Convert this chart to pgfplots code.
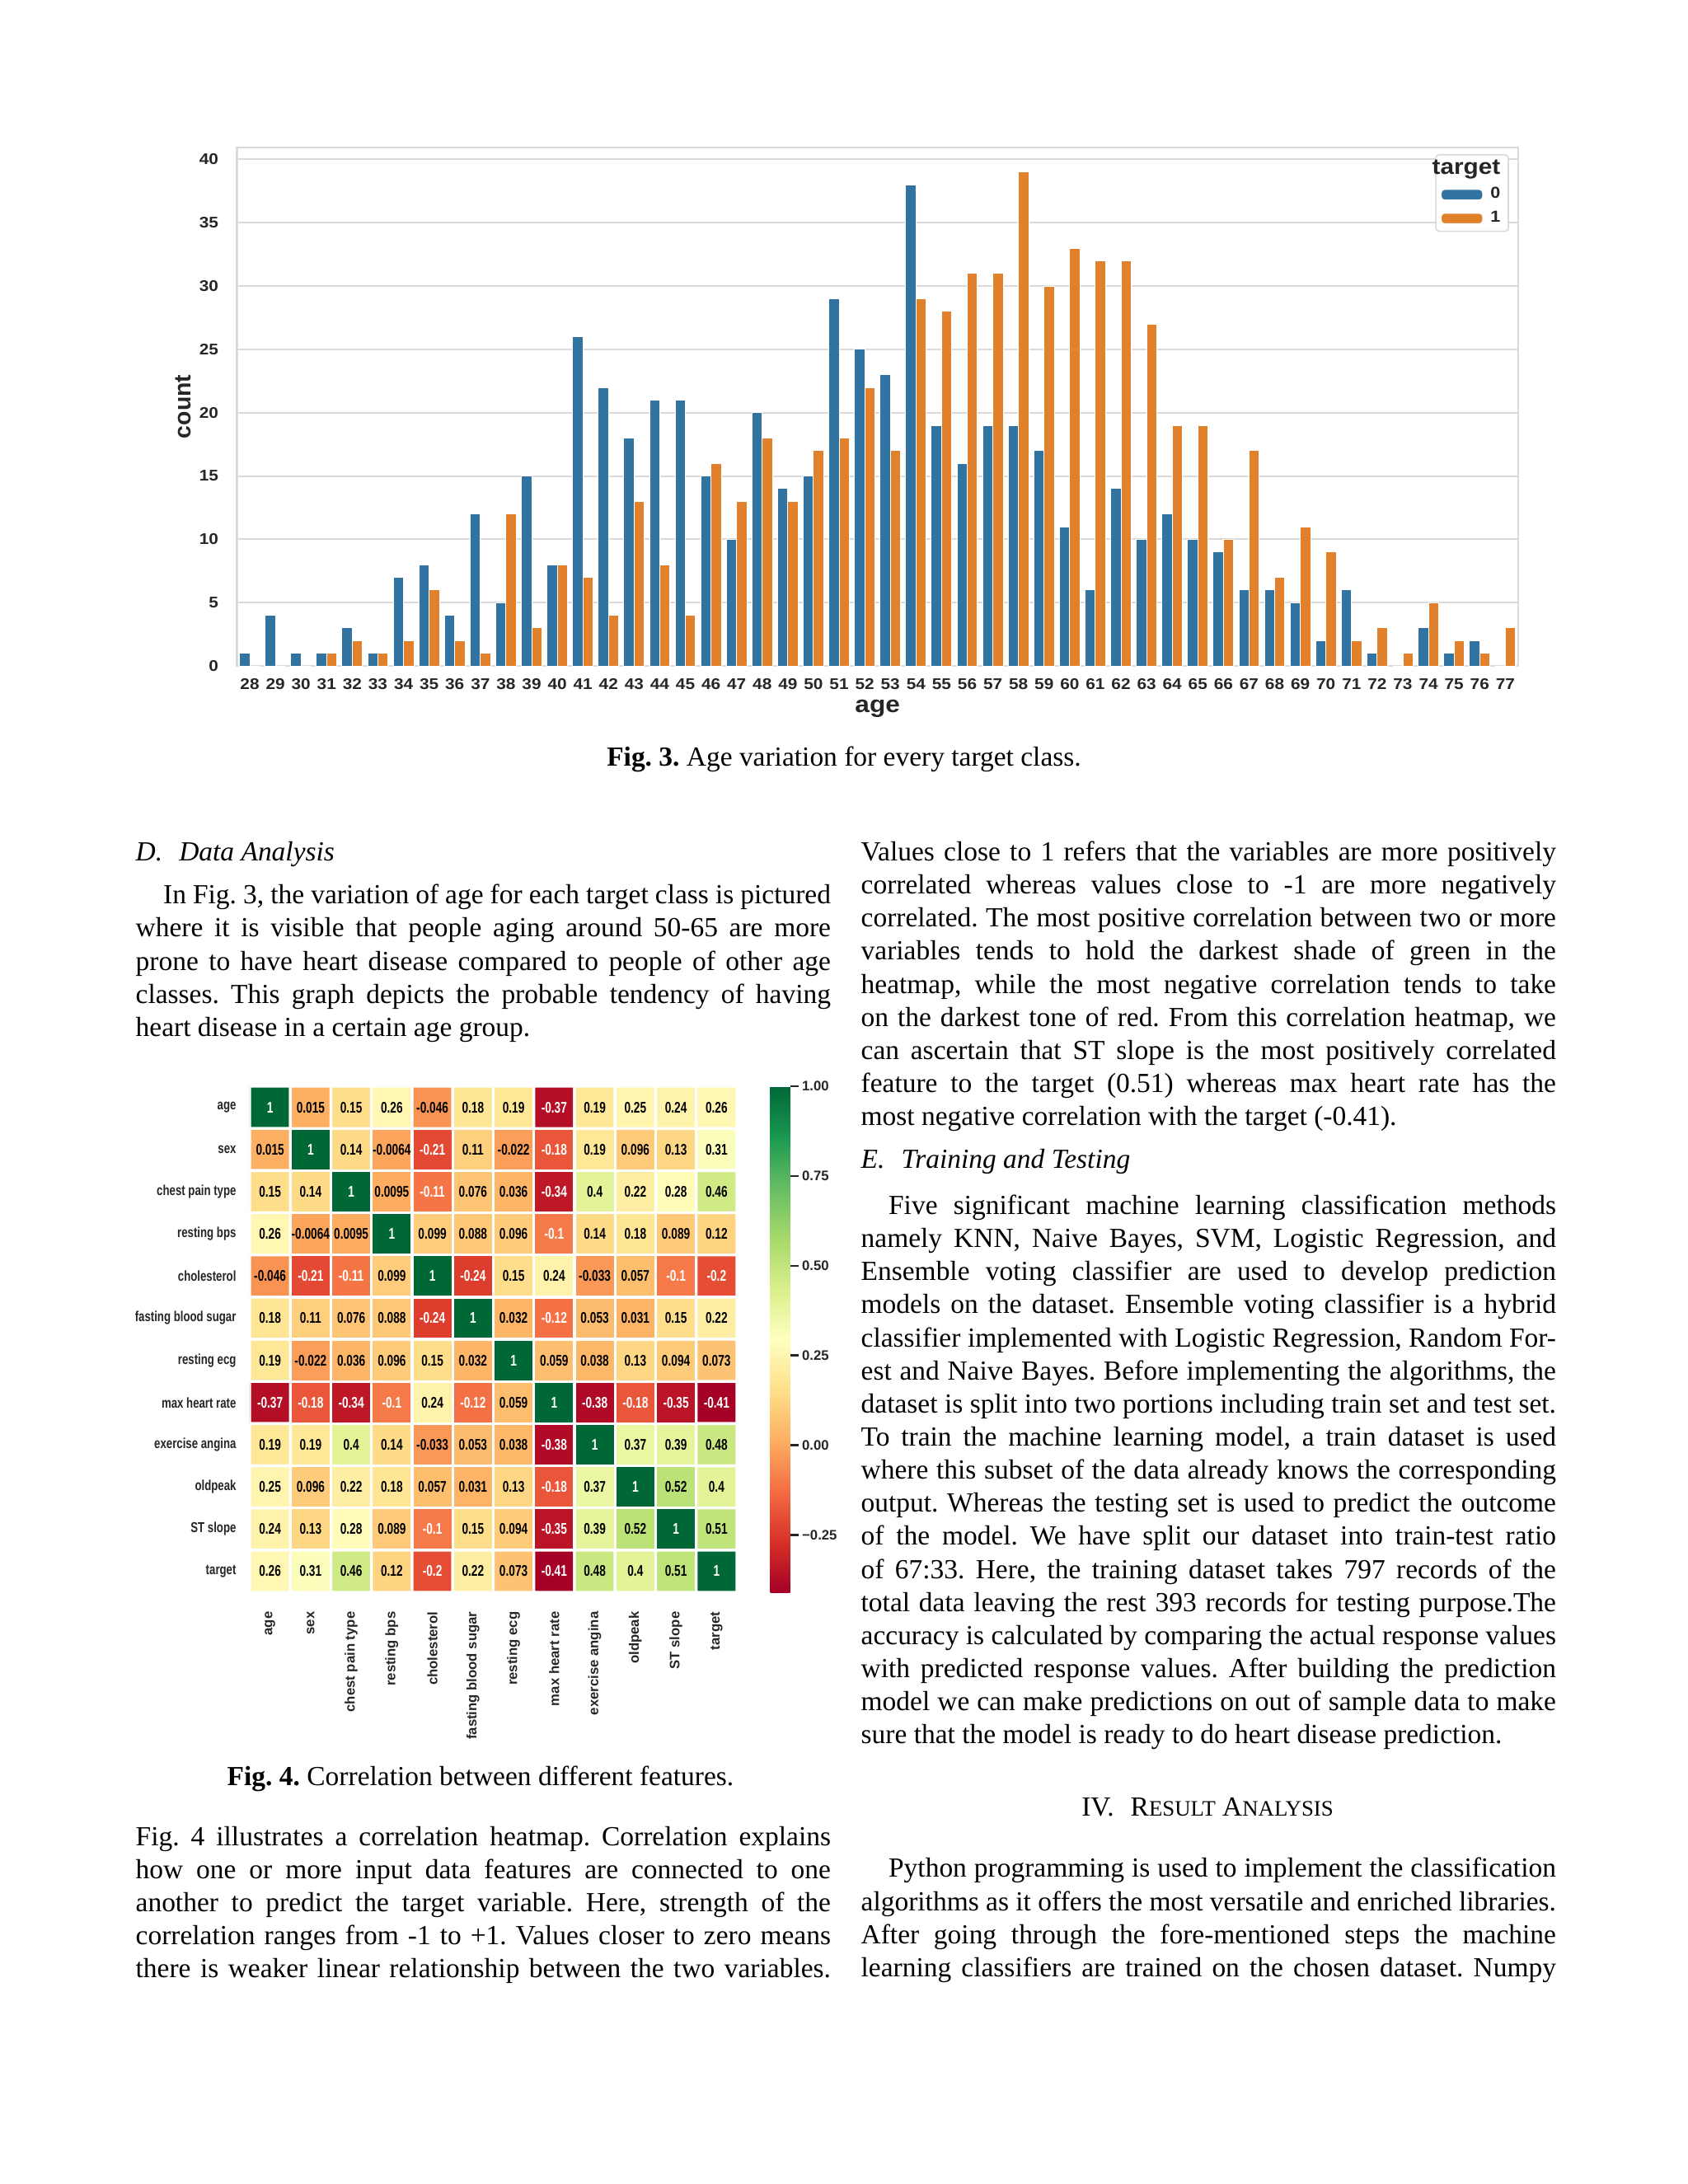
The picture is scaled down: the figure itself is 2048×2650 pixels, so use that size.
\documentclass[border=0pt]{standalone}
\usepackage{fontspec}
\setmainfont{Liberation Serif}
\newfontfamily\chartfont[FakeStretch=1.11]{Liberation Sans}
\newfontfamily\chartfontr{Liberation Sans}
\newfontfamily\hmfont[FakeStretch=0.76]{Liberation Sans}
\newfontfamily\hmnum[FakeStretch=0.73]{Liberation Sans}
\usepackage{pgfplots}
\usepackage{pgfplotstable}
\pgfplotsset{compat=1.18}
\frenchspacing

\definecolor{sbblue}{RGB}{50,116,161}
\definecolor{sborange}{RGB}{225,129,44}
\definecolor{gridgray}{RGB}{218,218,218}
\definecolor{txt}{RGB}{38,38,38}

\newcommand\J[1]{\hbox to 252pt{#1}}
\newcommand\Lr[1]{\hbox{#1}}
\newcommand\Txt[1]{\vtop{\fontsize{10}{12}\selectfont\frenchspacing\baselineskip=12pt\lineskiplimit=-10pt #1}}

\pgfplotstableread{
age c0 c1
28 1 0
29 4 0
30 1 0
31 1 1
32 3 2
33 1 1
34 7 2
35 8 6
36 4 2
37 12 1
38 5 12
39 15 3
40 8 8
41 26 7
42 22 4
43 18 13
44 21 8
45 21 4
46 15 16
47 10 13
48 20 18
49 14 13
50 15 17
51 29 18
52 25 22
53 23 17
54 38 29
55 19 28
56 16 31
57 19 31
58 19 39
59 17 30
60 11 33
61 6 32
62 14 32
63 10 27
64 12 19
65 10 19
66 9 10
67 6 17
68 6 7
69 5 11
70 2 9
71 6 2
72 1 3
73 0 1
74 3 5
75 1 2
76 2 1
77 0 3
}\agedata

% x = column index, y = row index (0 = age at the top), c = correlation, w = 1 for white text
\pgfplotstableread{
x y c w
0 0 1 1
1 0 0.015 0
2 0 0.15 0
3 0 0.26 0
4 0 -0.046 0
5 0 0.18 0
6 0 0.19 0
7 0 -0.37 1
8 0 0.19 0
9 0 0.25 0
10 0 0.24 0
11 0 0.26 0
0 1 0.015 0
1 1 1 1
2 1 0.14 0
3 1 -0.0064 0
4 1 -0.21 1
5 1 0.11 0
6 1 -0.022 0
7 1 -0.18 1
8 1 0.19 0
9 1 0.096 0
10 1 0.13 0
11 1 0.31 0
0 2 0.15 0
1 2 0.14 0
2 2 1 1
3 2 0.0095 0
4 2 -0.11 1
5 2 0.076 0
6 2 0.036 0
7 2 -0.34 1
8 2 0.4 0
9 2 0.22 0
10 2 0.28 0
11 2 0.46 0
0 3 0.26 0
1 3 -0.0064 0
2 3 0.0095 0
3 3 1 1
4 3 0.099 0
5 3 0.088 0
6 3 0.096 0
7 3 -0.1 1
8 3 0.14 0
9 3 0.18 0
10 3 0.089 0
11 3 0.12 0
0 4 -0.046 0
1 4 -0.21 1
2 4 -0.11 1
3 4 0.099 0
4 4 1 1
5 4 -0.24 1
6 4 0.15 0
7 4 0.24 0
8 4 -0.033 0
9 4 0.057 0
10 4 -0.1 1
11 4 -0.2 1
0 5 0.18 0
1 5 0.11 0
2 5 0.076 0
3 5 0.088 0
4 5 -0.24 1
5 5 1 1
6 5 0.032 0
7 5 -0.12 1
8 5 0.053 0
9 5 0.031 0
10 5 0.15 0
11 5 0.22 0
0 6 0.19 0
1 6 -0.022 0
2 6 0.036 0
3 6 0.096 0
4 6 0.15 0
5 6 0.032 0
6 6 1 1
7 6 0.059 0
8 6 0.038 0
9 6 0.13 0
10 6 0.094 0
11 6 0.073 0
0 7 -0.37 1
1 7 -0.18 1
2 7 -0.34 1
3 7 -0.1 1
4 7 0.24 0
5 7 -0.12 1
6 7 0.059 0
7 7 1 1
8 7 -0.38 1
9 7 -0.18 1
10 7 -0.35 1
11 7 -0.41 1
0 8 0.19 0
1 8 0.19 0
2 8 0.4 0
3 8 0.14 0
4 8 -0.033 0
5 8 0.053 0
6 8 0.038 0
7 8 -0.38 1
8 8 1 1
9 8 0.37 0
10 8 0.39 0
11 8 0.48 0
0 9 0.25 0
1 9 0.096 0
2 9 0.22 0
3 9 0.18 0
4 9 0.057 0
5 9 0.031 0
6 9 0.13 0
7 9 -0.18 1
8 9 0.37 0
9 9 1 1
10 9 0.52 0
11 9 0.4 0
0 10 0.24 0
1 10 0.13 0
2 10 0.28 0
3 10 0.089 0
4 10 -0.1 1
5 10 0.15 0
6 10 0.094 0
7 10 -0.35 1
8 10 0.39 0
9 10 0.52 0
10 10 1 1
11 10 0.51 0
0 11 0.26 0
1 11 0.31 0
2 11 0.46 0
3 11 0.12 0
4 11 -0.2 1
5 11 0.22 0
6 11 0.073 0
7 11 -0.41 1
8 11 0.48 0
9 11 0.4 0
10 11 0.51 0
11 11 1 1
}\heatdata

\begin{document}
\begin{tikzpicture}[x=0.29883pt, y=-0.29883pt]
\fill[white] (0,0) rectangle (2048,2650);
\path[use as bounding box] (0,0) rectangle (2048,2650);
\coordinate (barSW) at (287.5,808);
\coordinate (heatNW) at (303,1318);

% ---------------- bar chart ----------------
\begin{axis}[
  at={(barSW)}, anchor=south west,
  scale only axis, width=464.5pt, height=188.0pt,
  xmin=27.5, xmax=77.5, ymin=0, ymax=40.95,
  ybar, bar width=0.4,
  xtick={28,...,77}, ytick={0,5,...,40},
  major tick length=0pt,
  ymajorgrids, grid style={gridgray, line width=0.6pt},
  axis line style={gridgray, line width=0.6pt},
  /pgf/number format/assume math mode=true,
  ticklabel style={font=\chartfont\bfseries\fontsize{5.6}{6.7}\selectfont, text=txt},
  xticklabel style={yshift=-1.2pt},
  yticklabel style={xshift=-3.2pt},
  xlabel={age}, ylabel={count},
  xlabel style={font=\chartfont\bfseries\fontsize{8.5}{10}\selectfont, text=txt, at={(axis description cs:0.5,-0.083)}, anchor=center},
  ylabel style={font=\chartfontr\bfseries\fontsize{8.5}{10}\selectfont, text=txt, at={(axis description cs:-0.042,0.5)}, anchor=center},
  legend style={at={(1,1)}, anchor=north east, xshift=-3.3pt, yshift=-2.4pt,
    draw=gridgray, line width=0.5pt, rounded corners=1.2pt, fill=white,
    font=\chartfont\bfseries\fontsize{5.8}{6.9}\selectfont, text=txt,
    inner xsep=1.8pt, inner ysep=0.8pt, row sep=0.9pt,
    nodes={inner sep=1.1pt}},
  legend cell align=right,
  legend image code/.code={\fill[#1] (0pt,-1.9pt) rectangle (15pt,1.9pt);},
]
\addlegendimage{empty legend}
\addlegendentry{\hspace*{-19.5pt}\fontsize{8}{9}\selectfont target}
\addplot[fill=sbblue, draw=white, line width=0.3pt, bar shift=-0.2] table[x=age,y=c0]{\agedata};
\addlegendentry{0}
\addplot[fill=sborange, draw=white, line width=0.3pt, bar shift=0.2] table[x=age,y=c1]{\agedata};
\addlegendentry{1}
\end{axis}

% ---------------- heatmap ----------------
\begin{axis}[
  at={(heatNW)}, anchor=north west,
  scale only axis, width=176.6pt, height=183.5pt,
  xmin=-0.5, xmax=11.5, ymin=-0.5, ymax=11.5,
  enlargelimits=false,
  axis line style={draw=none}, major tick length=0pt,
  xtick={0,...,11}, ytick={0,...,11},
  xticklabels={age, sex, chest pain type, resting bps, cholesterol, fasting blood sugar, resting ecg, max heart rate, exercise angina, oldpeak, ST slope, target},
  yticklabels={target, ST slope, oldpeak, exercise angina, max heart rate, resting ecg, fasting blood sugar, cholesterol, resting bps, chest pain type, sex, age},
  xticklabel style={rotate=90, anchor=east, font=\chartfontr\bfseries\fontsize{5.0}{6}\selectfont, text=txt, xshift=-3.5pt},
  yticklabel style={font=\hmfont\bfseries\fontsize{5.2}{6}\selectfont, text=txt, xshift=-1.4pt},
  colormap={RdYlGn}{rgb255=(165,0,38) rgb255=(215,48,39) rgb255=(244,109,67) rgb255=(253,174,97) rgb255=(254,224,139) rgb255=(255,255,191) rgb255=(217,239,139) rgb255=(166,217,106) rgb255=(102,189,99) rgb255=(26,152,80) rgb255=(0,104,55)},
  point meta min=-0.41, point meta max=1,
  colorbar,
  colorbar style={
    at={(parent axis.north east)}, anchor=north west, xshift=3.6pt,
    width=7.2pt,
    ytick={-0.25,0,0.25,0.5,0.75,1},
    yticklabels={−0.25,0.00,0.25,0.50,0.75,1.00},
    yticklabel style={font=\chartfontr\bfseries\fontsize{5.0}{6}\selectfont, text=txt, xshift=-2.2pt},
    axis line style={draw=none},
    major tick length=3pt,
    ytick style={draw=txt, line width=0.7pt},
    tick align=outside,
    ytick pos=right, yticklabel pos=right,
  },
]
\addplot[matrix plot*, mesh/cols=12, point meta=explicit, draw=white, line width=1pt] table[x=x,y expr=11-\thisrow{y},meta=c]{\heatdata};
\addplot[only marks, mark=none, point meta=explicit symbolic,
  restrict expr to domain={\thisrow{w}}{-0.5:0.5},
  nodes near coords,
  every node near coord/.append style={font=\hmnum\bfseries\fontsize{5.6}{6}\selectfont, text=black, inner sep=0pt, anchor=center}]
  table[x=x,y expr=11-\thisrow{y},meta=c]{\heatdata};
\addplot[only marks, mark=none, point meta=explicit symbolic,
  restrict expr to domain={\thisrow{w}}{0.5:1.5},
  nodes near coords,
  every node near coord/.append style={font=\hmnum\bfseries\fontsize{5.6}{6}\selectfont, text=white, inner sep=0pt, anchor=center}]
  table[x=x,y expr=11-\thisrow{y},meta=c]{\heatdata};
\end{axis}

% ---------------- captions and text ----------------
\node[anchor=base, inner sep=0pt] at (1024,929.5) {\fontsize{10}{12}\selectfont\textbf{Fig. 3.} Age variation for every target class.};
\node[anchor=base, inner sep=0pt] at (583,2166.5) {\fontsize{10}{12}\selectfont\textbf{Fig. 4.} Correlation between different features.};

\node[anchor=base west, inner sep=0pt] at (164,1044.4) {\fontsize{10}{12}\selectfont\itshape D.\hspace{0.6em}Data Analysis};
\node[anchor=base west, inner sep=0pt] at (164,1096.7) {\Txt{%
\J{\hspace*{10pt}In Fig. 3, the variation of age for each target class is pictured}
\J{where it is visible that people aging around 50-65 are more}
\J{prone to have heart disease compared to people of other age}
\J{classes. This graph depicts the probable tendency of having}
\Lr{heart disease in a certain age group.}}};

\node[anchor=base west, inner sep=0pt] at (164,2239) {\Txt{%
\J{Fig. 4 illustrates a correlation heatmap. Correlation explains}
\J{how one or more input data features are connected to one}
\J{another to predict the target variable. Here, strength of the}
\J{correlation ranges from -1 to +1. Values closer to zero means}
\J{there is weaker linear relationship between the two variables.}}};

\node[anchor=base west, inner sep=0pt] at (1044,1044.4) {\Txt{%
\J{Values close to 1 refers that the variables are more positively}
\J{correlated whereas values close to -1 are more negatively}
\J{correlated. The most positive correlation between two or more}
\J{variables tends to hold the darkest shade of green in the}
\J{heatmap, while the most negative correlation tends to take}
\J{on the darkest tone of red. From this correlation heatmap, we}
\J{can ascertain that ST slope is the most positively correlated}
\J{feature to the target (0.51) whereas max heart rate has the}
\Lr{most negative correlation with the target (-0.41).}}};

\node[anchor=base west, inner sep=0pt] at (1044,1417.8) {\fontsize{10}{12}\selectfont\itshape E.\hspace{0.6em}Training and Testing};
\node[anchor=base west, inner sep=0pt] at (1044,1473.4) {\Txt{%
\J{\hspace*{10pt}Five significant machine learning classification methods}
\J{namely KNN, Naive Bayes, SVM, Logistic Regression, and}
\J{Ensemble voting classifier are used to develop prediction}
\J{models on the dataset. Ensemble voting classifier is a hybrid}
\J{classifier implemented with Logistic Regression, Random For-}
\J{est and Naive Bayes. Before implementing the algorithms, the}
\J{dataset is split into two portions including train set and test set.}
\J{To train the machine learning model, a train dataset is used}
\J{where this subset of the data already knows the corresponding}
\J{output. Whereas the testing set is used to predict the outcome}
\J{of the model. We have split our dataset into train-test ratio}
\J{of 67:33. Here, the training dataset takes 797 records of the}
\J{total data leaving the rest 393 records for testing purpose.The}
\J{accuracy is calculated by comparing the actual response values}
\J{with predicted response values. After building the prediction}
\J{model we can make predictions on out of sample data to make}
\Lr{sure that the model is ready to do heart disease prediction.}}};

\node[anchor=base, inner sep=0pt] at (1465,2203.4) {\fontsize{10}{12}\selectfont IV.\hspace{0.6em}R{\fontsize{8}{10}\selectfont ESULT} A{\fontsize{8}{10}\selectfont NALYSIS}};

\node[anchor=base west, inner sep=0pt] at (1044,2277.9) {\Txt{%
\J{\hspace*{10pt}Python programming is used to implement the classification}
\J{algorithms as it offers the most versatile and enriched libraries.}
\J{After going through the fore-mentioned steps the machine}
\J{learning classifiers are trained on the chosen dataset. Numpy}}};
\end{tikzpicture}
\end{document}
